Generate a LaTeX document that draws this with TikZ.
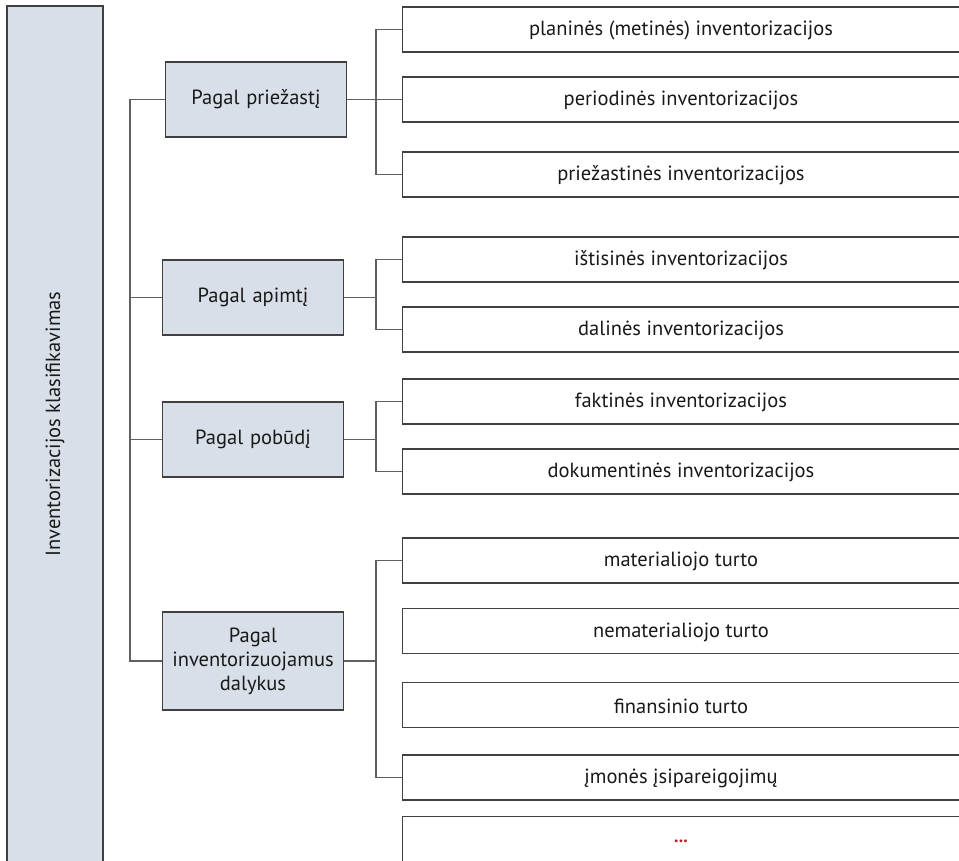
\documentclass[tikz,border=0pt]{standalone}
\usepackage{fontspec}
\setmainfont{PT Sans}
\definecolor{boxfill}{RGB}{216,223,232}
\definecolor{edge}{RGB}{64,64,64}
\definecolor{wire}{RGB}{96,96,96}
\definecolor{dotred}{RGB}{192,30,40}
\begin{document}
\begin{tikzpicture}[x=1pt,y=-1pt,
  every node/.style={font=\fontsize{20.5}{24}\selectfont, text=black!90},
  catbox/.style={draw=edge, line width=1.3pt, fill=boxfill, minimum width=181pt, inner sep=0pt, align=center, text width=176pt},
  leafbox/.style={draw=edge, line width=1.3pt, fill=white, minimum width=580pt, minimum height=45pt, inner sep=0pt},
  wirestyle/.style={draw=wire, line width=1.3pt}]
\useasboundingbox (0,0) rectangle (959,860);
\clip (0,0) rectangle (959,860);
% root box
\node[draw=edge, line width=1.3pt, fill=boxfill, minimum width=96pt, minimum height=880pt, inner sep=0pt] (root) at (55,446) {};
\node[rotate=90] (roottext) at (55,424) {Inventorizacijos klasifikavimas};
% categories
\node[catbox, minimum height=75pt] (c1) at (256,99.5) {Pagal priežastį};
\node[catbox, minimum height=75pt] (c2) at (253,297.5) {Pagal apimtį};
\node[catbox, minimum height=75pt] (c3) at (253,439.5) {Pagal pobūdį};
\node[catbox, minimum height=98pt] (c4) at (253,661) {Pagal\\inventorizuojamus\\dalykus};
% trunk
\coordinate (T) at (130,0);
\coordinate (J) at (376,0);
\draw[wirestyle] (c1.west) -- (c1.west -| T) |- (c4.west);
\draw[wirestyle] (c2.west) -- (c2.west -| T);
\draw[wirestyle] (c3.west) -- (c3.west -| T);
% leaves (left edge at x=402)
\node[leafbox, anchor=west] (r11) at (402,29.5) {};
\node[leafbox, anchor=west] (r12) at (402,99.5) {};
\node[leafbox, anchor=west] (r13) at (402,174.5) {};
\node[leafbox, anchor=west] (r21) at (402,259.5) {};
\node[leafbox, anchor=west] (r22) at (402,329.5) {};
\node[leafbox, anchor=west] (r31) at (402,401.5) {};
\node[leafbox, anchor=west] (r32) at (402,471.5) {};
\node[leafbox, anchor=west] (r41) at (402,560.5) {};
\node[leafbox, anchor=west] (r42) at (402,631) {};
\node[leafbox, anchor=west] (r43) at (402,705) {};
\node[leafbox, anchor=west] (r44) at (402,777.5) {};
\node[leafbox, anchor=north west, minimum height=80pt] (r45) at (402,816) {};
% leaf texts (centred on visible part)
\node (t11) at (681,30.5) {planinės (metinės) inventorizacijos};
\node (t12) at (681,100.5) {periodinės inventorizacijos};
\node (t13) at (681,175.5) {priežastinės inventorizacijos};
\node (t21) at (681,260.5) {ištisinės inventorizacijos};
\node (t22) at (681,330.5) {dalinės inventorizacijos};
\node (t31) at (681,402.5) {faktinės inventorizacijos};
\node (t32) at (681,472.5) {dokumentinės inventorizacijos};
\node (t41) at (681,561.5) {materialiojo turto};
\node (t42) at (681,632) {nematerialiojo turto};
\node (t43) at (681,706) {finansinio turto};
\node (t44) at (681,778.5) {įmonės įsipareigojimų};
\node[text=dotred, font=\bfseries\fontsize{18}{20}\selectfont] (t45) at (681,841) {...};
% branch connectors
\foreach \c/\a/\b in {c1/r11/r13, c2/r21/r22, c3/r31/r32, c4/r41/r44}{
  \draw[wirestyle] (\c.east) -- (\c.east -| J);
  \draw[wirestyle] (\a.west) -- (\a.west -| J) -- (\b.west -| J) -- (\b.west);
}
\draw[wirestyle] (c1.east -| J) -- (r12.west);
\end{tikzpicture}
\end{document}
